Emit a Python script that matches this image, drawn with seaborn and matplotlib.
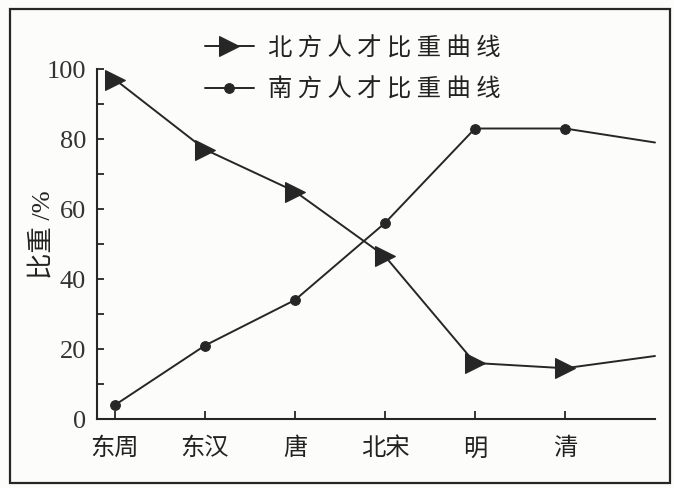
import matplotlib
matplotlib.use("Agg")
import matplotlib.pyplot as plt
import seaborn as sns
import pandas as pd
from matplotlib.patches import Rectangle
from matplotlib.ticker import MultipleLocator

# periods (the last point has no label)
periods = ["东周", "东汉", "唐", "北宋", "明", "清", ""]
north = [97, 77, 65, 46.5, 16, 14.5, 18]
south = [4, 21, 34, 56, 83, 83, 79]
north_label = "北 方 人 才 比 重 曲 线"
south_label = "南 方 人 才 比 重 曲 线"
y_label = "比重 /%"

sns.set_theme(style="white")
plt.rcParams['font.family'] = ['Liberation Serif', 'Noto Sans CJK SC', 'DejaVu Sans']

df = pd.DataFrame({"pos": range(len(periods)), "north": north, "south": south})

ink = "#262626"
fig = plt.figure(figsize=(6.74, 4.89), dpi=100, facecolor="#fcfcfa")
ax = fig.add_axes([97/674, 1 - 420/489, 558/674, 350/489])
ax.set_facecolor("#fcfcfa")

n_marks = list(range(len(periods) - 1))
sns.lineplot(data=df, x="pos", y="north", ax=ax, color=ink, lw=1.4,
             marker=">", markersize=14, markevery=n_marks, markeredgecolor=ink,
             markerfacecolor=ink, label=north_label, clip_on=False)
sns.lineplot(data=df, x="pos", y="south", ax=ax, color=ink, lw=1.4,
             marker="o", markersize=7, markevery=n_marks, markeredgecolor=ink,
             markerfacecolor=ink, label=south_label, clip_on=False)

ax.set_xlim(-0.2, 6.0)
ax.set_ylim(0, 100)
ax.set_xticks(n_marks)
ax.set_xticklabels(periods[:-1], family=['Noto Sans CJK SC'], fontsize=17.5)
ax.yaxis.set_major_locator(MultipleLocator(20))
ax.yaxis.set_minor_locator(MultipleLocator(10))
ax.tick_params(axis="y", which="major", direction="in", length=5, width=1.3,
               color=ink, labelsize=19, pad=8, labelcolor="#333333", left=True)
ax.tick_params(axis="y", which="minor", direction="in", length=5, width=1.3,
               color=ink, left=True)
ax.tick_params(axis="x", direction="in", length=6, width=1.3, color=ink,
               pad=11, labelcolor="#222222", bottom=True)

for side in ["top", "right"]:
    ax.spines[side].set_visible(False)
for side in ["left", "bottom"]:
    ax.spines[side].set_color(ink)
    ax.spines[side].set_linewidth(1.5)

ax.set_xlabel("")
ax.set_ylabel(y_label, fontsize=19, color="#222222")
ax.yaxis.set_label_coords(-0.077, 0.53)

leg = ax.legend(loc="upper left", bbox_to_anchor=(205/674, 1 - 36/489),
                bbox_transform=fig.transFigure, frameon=False,
                prop={'family': ['Noto Sans CJK SC'], 'size': 17.5},
                handlelength=2.0, handletextpad=0.6, labelspacing=0.62,
                borderpad=0, borderaxespad=0)
for t in leg.get_texts():
    t.set_color("#222222")

# outer frame of the scanned figure
fig.add_artist(Rectangle((10/674, 1 - 484/489), 660/674, 474/489,
                         transform=fig.transFigure, fill=False,
                         edgecolor=ink, lw=1.6))

fig.savefig("out.png", dpi=100, facecolor=fig.get_facecolor())
